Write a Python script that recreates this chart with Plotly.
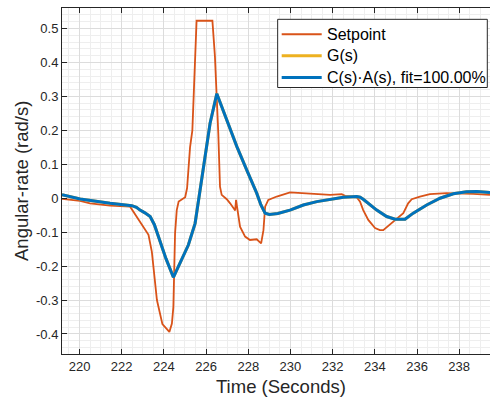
import plotly.graph_objects as go

# Commanded angular rate (setpoint)
setpoint_t = [219.17, 220.03, 220.50, 221.45, 222.40, 223.27, 223.43, 223.67, 223.93, 224.26,
              224.38, 224.45, 224.53, 224.61, 224.70, 224.86, 225.01, 225.10, 225.24, 225.35,
              225.44, 225.55, 226.30, 226.42, 226.58, 226.66, 226.74, 226.98, 227.14, 227.30,
              227.38, 227.42, 227.48, 227.61, 227.85, 228.08, 228.40, 228.61, 228.72, 228.80,
              228.95, 229.35, 229.98, 230.61, 231.25, 231.88, 232.43, 232.59, 233.14, 233.30,
              233.45, 233.69, 234.01, 234.24, 234.40, 234.64, 234.87, 235.04, 235.35, 235.58,
              235.75, 236.14, 236.61, 237.40, 238.03, 238.66, 239.46]
setpoint_v = [-0.002, -0.008, -0.015, -0.022, -0.025, -0.108, -0.158, -0.300, -0.371, -0.394,
              -0.369, -0.320, -0.103, -0.035, -0.010, -0.002, 0.003, 0.030, 0.150, 0.200,
              0.340, 0.523, 0.523, 0.418, 0.190, 0.034, 0.010, -0.003, -0.015, -0.030,
              -0.036, -0.005, -0.035, -0.084, -0.113, -0.123, -0.121, -0.133, -0.094, -0.025,
              -0.005, 0.005, 0.017, 0.015, 0.012, 0.010, 0.012, 0.007, 0.003, -0.010,
              -0.035, -0.064, -0.088, -0.094, -0.094, -0.082, -0.069, -0.062, -0.044, -0.015,
              -0.003, 0.005, 0.012, 0.015, 0.015, 0.013, 0.010]

# Fitted closed-loop response C(s)·A(s)
fit_t = [219.17, 220.03, 221.45, 222.48, 222.70, 222.87, 223.10, 223.35, 223.55, 223.82,
         224.10, 224.45, 224.77, 225.16, 225.48, 225.72, 225.95, 226.19, 226.51, 226.98,
         227.46, 227.93, 228.40, 228.60, 228.80, 229.00, 229.40, 229.98, 230.61, 231.25,
         231.88, 232.51, 233.14, 233.30, 233.45, 233.77, 234.09, 234.56, 234.96, 235.43,
         235.82, 236.46, 237.09, 237.72, 238.35, 238.83, 239.46]
fit_v = [0.010, -0.002, -0.015, -0.022, -0.027, -0.035, -0.043, -0.054, -0.078, -0.128,
         -0.178, -0.233, -0.190, -0.138, -0.074, 0.024, 0.123, 0.221, 0.308, 0.231,
         0.152, 0.083, 0.015, -0.020, -0.044, -0.048, -0.045, -0.035, -0.020, -0.010,
         -0.003, 0.003, 0.005, 0.003, -0.003, -0.020, -0.035, -0.054, -0.062, -0.062,
         -0.044, -0.020, 0.000, 0.013, 0.019, 0.020, 0.017]

# Identified model G(s); identical to the fit (fit = 100 %)
g_t = fit_t
g_v = fit_v

x_ticks = [220, 222, 224, 226, 228, 230, 232, 234, 236, 238]
y_ticks = [-0.4, -0.3, -0.2, -0.1, 0, 0.1, 0.2, 0.3, 0.4, 0.5]
y_tick_labels = ["-0.4", "-0.3", "-0.2", "-0.1", "0", "0.1", "0.2", "0.3", "0.4", "0.5"]

FONT = "Liberation Sans, Arial, Helvetica, sans-serif"
INK = "#262626"

series = [
    dict(name="Setpoint", x=setpoint_t, y=setpoint_v, color="#D95319", width=1.8),
    dict(name="G(s)", x=g_t, y=g_v, color="#EDB120", width=3),
    dict(name="C(s)·A(s), fit=100.00%", x=fit_t, y=fit_v, color="#0072BD", width=3),
]

fig = go.Figure()
for s in series:
    fig.add_trace(go.Scatter(x=s["x"], y=s["y"], mode="lines", name=s["name"],
                             line=dict(color=s["color"], width=s["width"]),
                             showlegend=False))

fig.update_layout(
    width=490, height=402,
    margin=dict(l=62, r=0, t=8, b=48),
    paper_bgcolor="white", plot_bgcolor="white",
    font=dict(family=FONT, color=INK, size=13),
)

fig.update_xaxes(
    range=[219.17, 239.46], tickmode="array", tickvals=x_ticks,
    ticks="inside", ticklen=5, tickcolor=INK, tickwidth=1,
    showline=True, linecolor=INK, linewidth=1, mirror="ticks",
    showgrid=True, gridcolor="#dcdcdc", gridwidth=1, zeroline=False,
    tickfont=dict(size=13, color=INK),
    minor=dict(tickmode="linear", tick0=0, dtick=0.5, showgrid=True,
               gridcolor="#eeeeee", gridwidth=1, ticks=""),
)
fig.update_yaxes(
    range=[-0.459, 0.5605], tickmode="array", tickvals=y_ticks, ticktext=y_tick_labels,
    ticks="inside", ticklen=5, tickcolor=INK, tickwidth=1,
    showline=True, linecolor=INK, linewidth=1, mirror=False,
    showgrid=True, gridcolor="#dcdcdc", gridwidth=1, zeroline=False,
    tickfont=dict(size=13, color=INK),
    minor=dict(tickmode="linear", tick0=0, dtick=0.02, showgrid=True,
               gridcolor="#eeeeee", gridwidth=1, ticks=""),
)

# Legend box with one line sample and label per series
fig.add_shape(type="rect", xref="paper", yref="paper",
              x0=0.5039, x1=0.9937, y0=0.7702, y1=0.9673,
              fillcolor="white", line=dict(color=INK, width=1), layer="above")
row_y = [0.9240, 0.8620, 0.7990]
for s, yy in zip(series, row_y):
    fig.add_shape(type="line", xref="paper", yref="paper",
                  x0=0.5133, x1=0.6068, y0=yy, y1=yy, layer="above",
                  line=dict(color=s["color"], width=max(s["width"], 2)))
    fig.add_annotation(text=s["name"], xref="paper", yref="paper",
                       x=0.6145, y=yy, xanchor="left", yanchor="middle",
                       showarrow=False, font=dict(size=16, color="black"))

fig.add_annotation(text="Time (Seconds)", xref="paper", yref="paper",
                   x=0.5117, y=-0.0925, xanchor="center", yanchor="middle",
                   showarrow=False, font=dict(size=18.5, color=INK))
fig.add_annotation(text="Angular-rate (rad/s)", xref="paper", yref="paper",
                   x=-0.0958, y=0.5, xanchor="center", yanchor="middle", textangle=-90,
                   showarrow=False, font=dict(size=18.5, color=INK))

fig.write_html("out.html")
